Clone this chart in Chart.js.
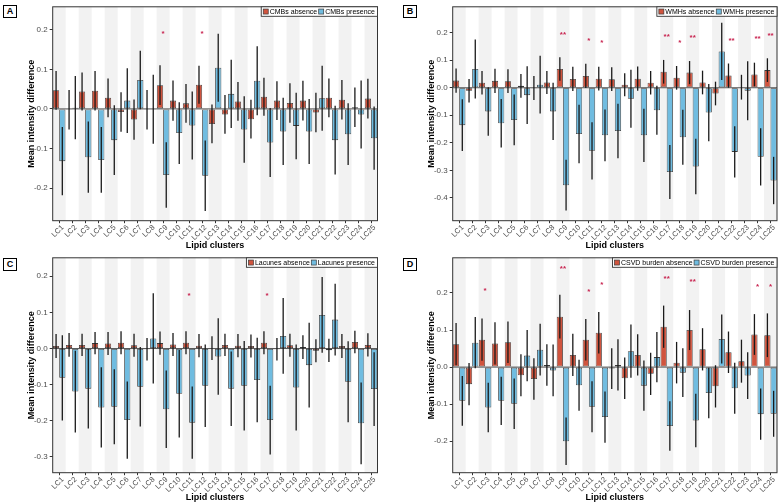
<!DOCTYPE html>
<html><head><meta charset="utf-8">
<script src="https://cdn.jsdelivr.net/npm/chart.js@4.4.0/dist/chart.umd.min.js"></script>
<style>
html,body{margin:0;padding:0;background:#fff;}
#wrap{position:relative;width:778px;height:503px;overflow:hidden;background:#fff;}
canvas{position:absolute;}
.tag{position:absolute;width:12px;height:11px;border:1.4px solid #000;font:bold 9px "Liberation Sans",Arial,sans-serif;text-align:center;line-height:11px;background:#fff;color:#000;}
</style></head>
<body><div id="wrap">
<canvas id="cA" width="389" height="251" style="left:0;top:0"></canvas>
<canvas id="cB" width="389" height="251" style="left:389px;top:0"></canvas>
<canvas id="cC" width="389" height="252" style="left:0;top:251px"></canvas>
<canvas id="cD" width="389" height="252" style="left:389px;top:251px"></canvas>
<div class="tag" style="left:3px;top:5px">A</div>
<div class="tag" style="left:403px;top:5px">B</div>
<div class="tag" style="left:3px;top:258px">C</div>
<div class="tag" style="left:403px;top:258px">D</div>
</div>
<script>
// ---------- data ----------
const categories = ["LC1","LC2","LC3","LC4","LC5","LC6","LC7","LC8","LC9","LC10","LC11","LC12","LC13","LC14","LC15","LC16","LC17","LC18","LC19","LC20","LC21","LC22","LC23","LC24","LC25"];

const yTicksA = [-0.2,-0.1,0,0.1,0.2];
const yTicksB = [-0.4,-0.3,-0.2,-0.1,0,0.1,0.2];
const yTicksC = [-0.3,-0.2,-0.1,0,0.1,0.2];
const yTicksD = [-0.2,-0.1,0,0.1,0.2];

// Panel A: CMBs
const cmbsAbsence    = [0.047,-0.002,0.044,0.046,0.028,-0.008,-0.027,-0.002,0.060,0.021,0.014,0.061,-0.038,-0.014,0.019,-0.026,0.031,0.021,0.015,0.021,-0.009,0.028,0.023,0.004,0.026];
const cmbsAbsenceErr = [0.049,0.050,0.048,0.050,0.049,0.050,0.051,0.050,0.050,0.051,0.049,0.048,0.049,0.049,0.049,0.049,0.048,0.049,0.050,0.050,0.050,0.049,0.050,0.050,0.050];
const cmbsPresence   = [-0.132,0.003,-0.122,-0.129,-0.079,0.021,0.073,-0.001,-0.167,-0.061,-0.042,-0.169,0.104,0.038,-0.052,0.071,-0.085,-0.057,-0.043,-0.057,0.027,-0.079,-0.064,-0.014,-0.074];
const cmbsPresenceErr= [0.086,0.080,0.090,0.083,0.088,0.082,0.074,0.087,0.083,0.078,0.086,0.089,0.086,0.086,0.084,0.087,0.087,0.085,0.084,0.082,0.082,0.087,0.078,0.086,0.080];
const cmbsStarCats   = ["LC9","LC12"];
const cmbsStarMarks  = ["*","*"];
const cmbsStarLevels = [0.196,0.196];

// Panel B: WMHs
const wmhAbsence    = [0.026,-0.011,0.018,0.025,0.024,0.007,-0.001,0.019,0.068,0.032,0.043,0.033,0.031,0.011,0.033,0.018,0.058,0.036,0.055,0.019,-0.021,0.044,0.002,0.048,0.064];
const wmhAbsenceErr = [0.044,0.043,0.043,0.044,0.043,0.043,0.044,0.042,0.043,0.044,0.044,0.043,0.043,0.042,0.044,0.043,0.043,0.043,0.042,0.043,0.043,0.044,0.045,0.043,0.043];
const wmhPresence   = [-0.136,0.068,-0.086,-0.129,-0.117,-0.027,0.011,-0.086,-0.354,-0.168,-0.229,-0.173,-0.157,-0.040,-0.173,-0.082,-0.306,-0.180,-0.286,-0.090,0.132,-0.233,-0.011,-0.251,-0.337];
const wmhPresenceErr= [0.094,0.107,0.088,0.088,0.092,0.105,0.105,0.104,0.092,0.106,0.104,0.094,0.099,0.105,0.097,0.089,0.098,0.100,0.101,0.104,0.104,0.093,0.107,0.104,0.086];
const wmhStarCats   = ["LC9","LC11","LC12","LC17","LC18","LC19","LC22","LC24","LC25"];
const wmhStarMarks  = ["**","*","*","**","*","**","**","**","**"];
const wmhStarLevels = [0.200,0.180,0.170,0.193,0.171,0.190,0.180,0.185,0.199];

// Panel C: Lacunes
const lacAbsence    = [0.007,0.010,0.010,0.015,0.014,0.016,0.009,-0.002,0.015,0.011,0.016,0.008,0.001,0.010,0.008,0.007,0.016,-0.002,0.009,0.004,-0.006,-0.005,0.007,0.018,0.010];
const lacAbsenceErr = [0.033,0.033,0.031,0.031,0.032,0.032,0.032,0.031,0.032,0.032,0.032,0.032,0.033,0.031,0.032,0.032,0.032,0.031,0.032,0.033,0.032,0.032,0.033,0.031,0.032];
const lacPresence   = [-0.081,-0.119,-0.111,-0.163,-0.161,-0.198,-0.106,0.028,-0.168,-0.125,-0.205,-0.103,-0.022,-0.111,-0.103,-0.087,-0.198,0.035,-0.108,-0.046,0.093,0.080,-0.092,-0.207,-0.112];
const lacPresenceErr= [0.118,0.113,0.110,0.111,0.104,0.107,0.110,0.125,0.107,0.121,0.100,0.114,0.106,0.103,0.124,0.117,0.095,0.105,0.119,0.117,0.105,0.099,0.112,0.113,0.102];
const lacStarCats   = ["LC11","LC17"];
const lacStarMarks  = ["*","*"];
const lacStarLevels = [0.153,0.153];

// Panel D: CSVD burden
const csvdAbsence    = [0.062,-0.046,0.074,0.064,0.067,-0.022,-0.032,0.006,0.136,0.033,0.074,0.093,-0.004,-0.030,0.033,-0.018,0.109,0.012,0.100,0.048,-0.052,0.040,0.016,0.088,0.086];
const csvdAbsenceErr = [0.057,0.057,0.057,0.057,0.056,0.057,0.056,0.056,0.059,0.057,0.056,0.056,0.055,0.056,0.056,0.057,0.057,0.056,0.054,0.057,0.057,0.056,0.058,0.055,0.059];
const csvdPresence   = [-0.091,0.066,-0.109,-0.091,-0.099,0.031,0.047,-0.009,-0.200,-0.049,-0.107,-0.135,0.006,0.043,-0.050,0.027,-0.159,-0.015,-0.144,-0.070,0.076,-0.057,-0.023,-0.127,-0.126];
const csvdPresenceErr= [0.067,0.069,0.067,0.065,0.068,0.069,0.070,0.070,0.064,0.069,0.069,0.069,0.069,0.072,0.068,0.068,0.067,0.066,0.072,0.068,0.066,0.069,0.063,0.069,0.062];
const csvdStarCats   = ["LC3","LC9","LC11","LC12","LC17","LC19","LC24","LC25"];
const csvdStarMarks  = ["*","**","*","*","**","**","*","*"];
const csvdStarLevels = [0.212,0.273,0.210,0.228,0.246,0.236,0.222,0.222];

// ---------- styling ----------
const RED = '#d0543e', BLUE = '#70bce0', EDGE = '#3a3a3a';
const FONT = '"Liberation Sans", Arial, Helvetica, sans-serif';
const TICK_COL = '#4d4d4d';

function makeDeco(p){
  return {
    id: 'deco' + p.key,
    beforeDatasetsDraw(chart){
      const {ctx, chartArea:a, scales:{x, y}} = chart;
      ctx.save();
      const w = x.getPixelForValue(1) - x.getPixelForValue(0);
      ctx.fillStyle = '#f2f2f2';
      categories.forEach((c, i) => {
        if (i % 2 === 0) {
          const cx = x.getPixelForValue(i);
          ctx.fillRect(cx - w/2, a.top, w, a.bottom - a.top);
        }
      });
      const y0 = y.getPixelForValue(0);
      ctx.strokeStyle = '#555'; ctx.lineWidth = 1;
      ctx.beginPath(); ctx.moveTo(a.left, y0); ctx.lineTo(a.right, y0); ctx.stroke();
      ctx.restore();
    },
    afterDatasetsDraw(chart){
      const {ctx, chartArea:a, scales:{x, y}} = chart;
      ctx.save();
      // error bars
      ctx.strokeStyle = '#1a1a1a'; ctx.lineWidth = 1.3;
      chart.data.datasets.forEach((ds, d) => {
        const meta = chart.getDatasetMeta(d);
        meta.data.forEach((el, i) => {
          const v = ds.data[i], e = ds.errors[i];
          const yt = y.getPixelForValue(v + e), yb = y.getPixelForValue(v - e);
          ctx.beginPath(); ctx.moveTo(el.x, yt); ctx.lineTo(el.x, yb); ctx.stroke();
        });
      });
      // frame
      ctx.strokeStyle = '#333'; ctx.lineWidth = 1;
      ctx.strokeRect(a.left, a.top, a.right - a.left, a.bottom - a.top);
      // stars
      const fs = 8;
      ctx.fillStyle = '#c8234f';
      ctx.font = 'bold ' + fs + 'px ' + FONT;
      ctx.textAlign = 'center'; ctx.textBaseline = 'alphabetic';
      p.starCats.forEach((c, k) => {
        const cx = x.getPixelForValue(categories.indexOf(c));
        const cy = y.getPixelForValue(p.starLevels[k]);
        ctx.fillText(p.starMarks[k], cx, cy + 0.57 * fs);
      });
      // legend (top-right inside the panel)
      ctx.font = '7px ' + FONT;
      const t1 = p.names[0], t2 = p.names[1];
      const w1 = ctx.measureText(t1).width, w2 = ctx.measureText(t2).width;
      const sw = 5, padL = 2, gap = 1.5, gap2 = 1.5, padR = 2.5;
      const bw = padL + sw + gap + w1 + gap2 + sw + gap + w2 + padR;
      const bh = 9.5;
      const bx = a.right - bw, by = a.top;
      ctx.fillStyle = '#fff'; ctx.fillRect(bx, by, bw, bh);
      ctx.strokeStyle = '#333'; ctx.lineWidth = 0.9; ctx.strokeRect(bx, by, bw, bh);
      let cx = bx + padL;
      const sy = by + (bh - sw) / 2;
      ctx.fillStyle = RED; ctx.fillRect(cx, sy, sw, sw);
      ctx.strokeStyle = EDGE; ctx.lineWidth = 0.7; ctx.strokeRect(cx, sy, sw, sw);
      cx += sw + gap;
      ctx.fillStyle = '#000'; ctx.textAlign = 'left'; ctx.textBaseline = 'middle';
      ctx.fillText(t1, cx, by + bh/2 + 0.3);
      cx += w1 + gap2;
      ctx.fillStyle = BLUE; ctx.fillRect(cx, sy, sw, sw);
      ctx.strokeStyle = EDGE; ctx.strokeRect(cx, sy, sw, sw);
      cx += sw + gap;
      ctx.fillStyle = '#000';
      ctx.fillText(t2, cx, by + bh/2 + 0.3);
      ctx.restore();
    }
  };
}

function makePanel(p){
  const ds = (label, data, errors, color) => ({
    label, data, errors,
    backgroundColor: color, borderColor: EDGE, borderWidth: 0.8, borderSkipped: false,
    categoryPercentage: 0.96, barPercentage: 1.0
  });
  new Chart(document.getElementById(p.canvas), {
    type: 'bar',
    data: {
      labels: categories,
      datasets: [ds(p.names[0], p.abs, p.absErr, RED), ds(p.names[1], p.pre, p.preErr, BLUE)]
    },
    options: {
      responsive: false, animation: false, devicePixelRatio: 1,
      layout: { padding: { top: p.padTop, right: p.padRight, left: 0, bottom: 0 } },
      plugins: { legend: { display: false }, tooltip: { enabled: false } },
      scales: {
        x: {
          type: 'category', offset: true,
          grid: { display: true, drawOnChartArea: false, drawTicks: true, tickLength: 2.5, offset: false, color: '#333', tickColor: '#333' },
          border: { display: false },
          ticks: { autoSkip: false, minRotation: 45, maxRotation: 45, labelOffset: 3.5, color: TICK_COL, font: { family: FONT, size: 7.5 }, padding: 0 },
          title: { display: true, text: 'Lipid clusters', color: '#000', font: { family: FONT, size: 9, weight: 'bold', lineHeight: 1.2 }, padding: { top: 0, bottom: 0.5 } },
          afterFit(s){ s.height = p.xHeight; }
        },
        y: {
          type: 'linear', min: p.yMin, max: p.yMax,
          grid: { display: true, drawOnChartArea: false, drawTicks: true, tickLength: 3, color: '#333', tickColor: '#333' },
          border: { display: false },
          afterBuildTicks(s){ s.ticks = p.yTicks.map(v => ({ value: v })); },
          ticks: { color: TICK_COL, font: { family: FONT, size: 8 }, padding: 2, callback: v => Number(v).toFixed(1) },
          title: { display: true, text: 'Mean intensity difference', color: '#000', font: { family: FONT, size: 9, weight: 'bold', lineHeight: 1.2 }, padding: { top: p.yTitlePad, bottom: 0 } },
          afterFit(s){ s.width = p.yWidth; }
        }
      }
    },
    plugins: [makeDeco(p)]
  });
}

makePanel({ key:'A', canvas:'cA', names:['CMBs absence','CMBs presence'],
  abs:cmbsAbsence, absErr:cmbsAbsenceErr, pre:cmbsPresence, preErr:cmbsPresenceErr,
  starCats:cmbsStarCats, starMarks:cmbsStarMarks, starLevels:cmbsStarLevels,
  yMin:-0.2825, yMax:0.258, yTicks:yTicksA, yWidth:52.7, yTitlePad:26, padTop:4.5, padRight:11.5, xHeight:30.3 });

makePanel({ key:'B', canvas:'cB', names:['WMHs absence','WMHs presence'],
  abs:wmhAbsence, absErr:wmhAbsenceErr, pre:wmhPresence, preErr:wmhPresenceErr,
  starCats:wmhStarCats, starMarks:wmhStarMarks, starLevels:wmhStarLevels,
  yMin:-0.483, yMax:0.294, yTicks:yTicksB, yWidth:63.7, yTitlePad:37.3, padTop:4.5, padRight:1, xHeight:30.3 });

makePanel({ key:'C', canvas:'cC', names:['Lacunes absence','Lacunes presence'],
  abs:lacAbsence, absErr:lacAbsenceErr, pre:lacPresence, preErr:lacPresenceErr,
  starCats:lacStarCats, starMarks:lacStarMarks, starLevels:lacStarLevels,
  yMin:-0.3435, yMax:0.251, yTicks:yTicksC, yWidth:52.7, yTitlePad:26, padTop:6, padRight:11.5, xHeight:30.3 });

makePanel({ key:'D', canvas:'cD', names:['CSVD burden absence','CSVD burden presence'],
  abs:csvdAbsence, absErr:csvdAbsenceErr, pre:csvdPresence, preErr:csvdPresenceErr,
  starCats:csvdStarCats, starMarks:csvdStarMarks, starLevels:csvdStarLevels,
  yMin:-0.285, yMax:0.295, yTicks:yTicksD, yWidth:63.7, yTitlePad:37.3, padTop:6, padRight:1, xHeight:30.3 });
</script>
</body></html>
